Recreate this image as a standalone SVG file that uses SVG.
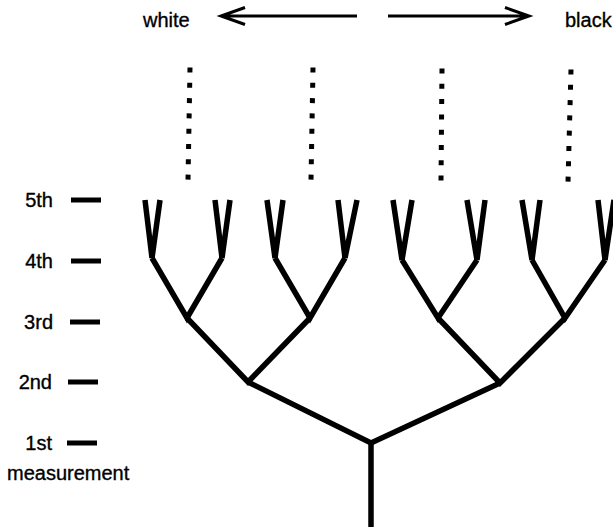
<svg xmlns="http://www.w3.org/2000/svg" width="613" height="527" viewBox="0 0 613 527">
  <style>
    .lbl { font-family: "Liberation Sans", Arial, sans-serif; font-size: 20px; fill: #000; stroke: #000; stroke-width: 0.35; }
    .tick { stroke: #000; stroke-width: 5; }
    .branch { stroke: #000; stroke-width: 5.5; fill: none; stroke-linecap: butt; stroke-linejoin: miter; }
    .dots { stroke: #000; stroke-width: 5; stroke-dasharray: 5 10.3; fill: none; }
    .arrow { stroke: #000; stroke-width: 3; fill: none; stroke-linejoin: miter; }
  </style>

  <g id="direction">
    <text class="lbl" x="143" y="27">white</text>
    <text class="lbl" x="565" y="27">black</text>
    <path class="arrow" d="M357,16 H221 M245,7.5 L221,16 L245,24.5"/>
    <path class="arrow" d="M388,16 H529 M505,7.5 L529,16 L505,24.5"/>
  </g>

  <g id="continuation">
    <line class="dots" x1="190" y1="67.5" x2="188" y2="180"/>
    <line class="dots" x1="313" y1="67.5" x2="311" y2="180"/>
    <line class="dots" x1="442" y1="68.5" x2="441" y2="181"/>
    <line class="dots" x1="571" y1="69.5" x2="568" y2="182"/>
  </g>

  <g id="scale">
    <g id="m5"><text class="lbl" x="53" y="207" text-anchor="end">5th</text><line class="tick" x1="71" y1="200" x2="101" y2="200"/></g>
    <g id="m4"><text class="lbl" x="53" y="268" text-anchor="end">4th</text><line class="tick" x1="71" y1="261" x2="101" y2="261"/></g>
    <g id="m3"><text class="lbl" x="53" y="329" text-anchor="end">3rd</text><line class="tick" x1="70" y1="322" x2="100" y2="322"/></g>
    <g id="m2"><text class="lbl" x="52" y="389" text-anchor="end">2nd</text><line class="tick" x1="68" y1="382" x2="98" y2="382"/></g>
    <g id="m1"><text class="lbl" x="52" y="450" text-anchor="end">1st</text><line class="tick" x1="67" y1="443" x2="97" y2="443"/></g>
    <text class="lbl" x="7" y="480">measurement</text>
  </g>

  <g id="tree">
    <path class="branch" d="M371,527 V443"/>
    <path class="branch" d="M248,382 L371,443 L500,383"/>
    <path class="branch" d="M187,318 L248,382 L310,318"/>
    <path class="branch" d="M438,318 L500,383 L565,318"/>
    <path class="branch" d="M152,258 L187,318 L222,258"/>
    <path class="branch" d="M275,258 L310,318 L345,258"/>
    <path class="branch" d="M402,260 L438,318 L477,260"/>
    <path class="branch" d="M532,260 L565,318 L605,260"/>
    <path class="branch" d="M145,200 L152,258 L160,200"/>
    <path class="branch" d="M215,200 L222,258 L230,200"/>
    <path class="branch" d="M267,200 L275,258 L283,200"/>
    <path class="branch" d="M338,200 L345,258 L357,200"/>
    <path class="branch" d="M393,200 L402,260 L412,200"/>
    <path class="branch" d="M467,200 L477,260 L485,200"/>
    <path class="branch" d="M522,200 L532,260 L540,200"/>
    <path class="branch" d="M598,200 L605,260 L614,200"/>
  </g>
</svg>
